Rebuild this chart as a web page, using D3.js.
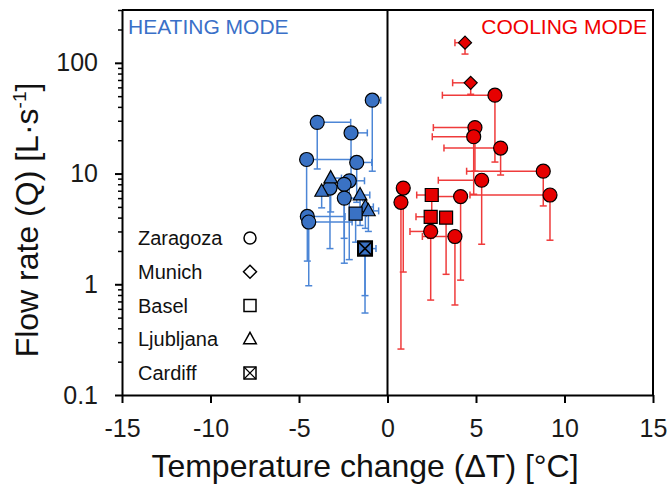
<!DOCTYPE html>
<html>
<head>
<meta charset="utf-8">
<script src="https://cdn.jsdelivr.net/npm/d3@7"></script>
<style>
  body { margin: 0; background: #fff; }
  svg { font-family: "Liberation Sans", Arial, sans-serif; }
</style>
</head>
<body>
<svg width="670" height="484"></svg>
<script>
// each row: [dT, Q, dT bar end (toward 0), Q bar low end]
const heatZaragoza = [
    [-0.86, 46, -0.38, 10.5],
    [-3.97, 29, -2.08, 11],
    [-2.06, 23.3, -1.14, 9.5],
    [-4.57, 13.4, -2.08, 3.8],
    [-1.74, 12.6, -0.89, 5.5],
    [-2.16, 8.6, -1.3, 1.67],
    [-2.45, 8.0, -2.0, 2.6],
    [-3.25, 7.4, -2.6, 2.1],
    [-2.44, 6.0, -1.4, 1.55],
    [-4.53, 4.1, -2.4, 1.62],
    [-4.45, 3.65, -2.0, 0.97]
];
const heatLjubljana = [
    [-3.21, 9.1, -2.6, 4.5],
    [-3.72, 6.9, -3.2, 4.9],
    [-1.55, 6.4, -1.0, 3.4],
    [-1.25, 5.0, -0.8, 3.2],
    [-1.08, 4.6, -0.5, 3.0]
];
const heatBasel = [
    [-1.80, 4.35, -1.2, 2.4]
];
const heatCardiff = [
    [-1.27, 2.1, -0.9, 0.79],
    [-1.27, 2.1, -0.65, 0.55]
];
const coolMunich = [
    [4.38, 152, 3.81, 120],
    [4.70, 66, 3.68, 52]
];
const coolZaragoza = [
    [6.07, 51, 3.10, 12.7],
    [4.94, 26, 2.59, 10.5],
    [4.87, 21.5, 2.53, 6.5],
    [6.39, 17, 3.19, 9.7],
    [8.80, 10.5, 4.47, 5.1],
    [5.32, 8.7, 2.87, 2.3],
    [9.18, 6.4, 4.66, 2.5],
    [4.13, 6.2, 2.78, 1.09],
    [0.89, 7.4, null, 1.29],
    [0.76, 5.5, null, 0.26],
    [2.44, 3.0, 1.27, 0.72],
    [3.81, 2.7, 1.97, 0.65]
];
const coolBasel = [
    [2.50, 6.4, 1.65, 4.0],
    [2.44, 4.07, 1.61, 2.6],
    [3.31, 4.0, null, 1.23]
];

const xTicks = [-15, -10, -5, 0, 5, 10, 15];
const yTicks = [0.1, 1, 10, 100];
const legendItems = [
    { name: "Zaragoza", shape: "circle" },
    { name: "Munich", shape: "diamond" },
    { name: "Basel", shape: "square" },
    { name: "Ljubljana", shape: "triangle" },
    { name: "Cardiff", shape: "cross" }
];

const blue = "#3a72c4", blueBar = "#4c86d6";
const red = "#e60000", redBar = "#ef3b3b";

const plot = { left: 122, right: 653, top: 10, bottom: 395 };

const svg = d3.select("svg");

const x = d3.scaleLinear().domain([-15, 15]).range([plot.left, plot.right]);
const y = d3.scaleLog().domain([0.1, 300]).range([plot.bottom, plot.top]);

function shapePath(shape, s) {
    if (shape === "square" || shape === "cross")
        return `M${-s},${-s}h${2 * s}v${2 * s}h${-2 * s}Z`;
    if (shape === "diamond")
        return `M0,${-s}L${s},0L0,${s}L${-s},0Z`;
    if (shape === "triangle")
        return `M0,${-s * 1.15}L${s * 1.05},${s * 0.75}L${-s * 1.05},${s * 0.75}Z`;
    return null;
}

function drawMarker(g, shape, cx, cy, s, fill, sw) {
    if (shape === "circle") {
        g.append("circle").attr("cx", cx).attr("cy", cy).attr("r", s)
            .attr("fill", fill).attr("stroke", "#000").attr("stroke-width", sw);
        return;
    }
    g.append("path").attr("transform", `translate(${cx},${cy})`)
        .attr("d", shapePath(shape, s))
        .attr("fill", fill).attr("stroke", "#000").attr("stroke-width", sw);
    if (shape === "cross") {
        g.append("path").attr("transform", `translate(${cx},${cy})`)
            .attr("d", `M${-s},${-s}L${s},${s}M${s},${-s}L${-s},${s}`)
            .attr("fill", "none").attr("stroke", "#000").attr("stroke-width", sw * 0.8);
    }
}

// Error bars under the markers
const barLayer = svg.append("g");
const markLayer = svg.append("g");

function drawSeries(data, shape, fill, barColor, size) {
    data.forEach(d => {
        const [dt, q, dtEnd, qLow] = d;
        const px = x(dt), py = y(q);
        const cap = 3.5;
        if (dtEnd !== null) {
            barLayer.append("line")
                .attr("x1", px).attr("x2", x(dtEnd)).attr("y1", py).attr("y2", py)
                .attr("stroke", barColor).attr("stroke-width", 1.5);
            barLayer.append("line")
                .attr("x1", x(dtEnd)).attr("x2", x(dtEnd)).attr("y1", py - cap).attr("y2", py + cap)
                .attr("stroke", barColor).attr("stroke-width", 1.5);
        }
        if (qLow !== null) {
            barLayer.append("line")
                .attr("x1", px).attr("x2", px).attr("y1", py).attr("y2", y(qLow))
                .attr("stroke", barColor).attr("stroke-width", 1.5);
            barLayer.append("line")
                .attr("x1", px - cap).attr("x2", px + cap).attr("y1", y(qLow)).attr("y2", y(qLow))
                .attr("stroke", barColor).attr("stroke-width", 1.5);
        }
        drawMarker(markLayer, shape, px, py, size, fill, shape === "cross" ? 2 : 1.2);
    });
}

drawSeries(heatZaragoza, "circle", blue, blueBar, 7);
drawSeries(heatLjubljana, "triangle", blue, blueBar, 6.5);
drawSeries(heatBasel, "square", blue, blueBar, 6.5);
drawSeries(heatCardiff, "cross", blue, blueBar, 7);
drawSeries(coolMunich, "diamond", red, redBar, 6.5);
drawSeries(coolZaragoza, "circle", red, redBar, 7);
drawSeries(coolBasel, "square", red, redBar, 6.5);

// Zero line
svg.append("line")
    .attr("x1", x(0)).attr("x2", x(0)).attr("y1", plot.top).attr("y2", plot.bottom)
    .attr("stroke", "#000").attr("stroke-width", 2);

// Frame (top + right)
svg.append("path")
    .attr("d", `M${plot.left},${plot.top}H${plot.right}V${plot.bottom}`)
    .attr("fill", "none").attr("stroke", "#000").attr("stroke-width", 2);

// Axes
const gx = svg.append("g")
    .attr("transform", `translate(0,${plot.bottom})`)
    .call(d3.axisBottom(x).tickValues(xTicks).tickFormat(d => String(d))
        .tickSize(8).tickSizeOuter(0).tickPadding(16));

const gy = svg.append("g")
    .attr("transform", `translate(${plot.left},0)`)
    .call(d3.axisLeft(y).tickValues(yTicks).tickFormat(d => String(d))
        .tickSize(7).tickSizeOuter(0).tickPadding(17));

const minorTicks = [];
[0.1, 1, 10].forEach(b => { for (let k = 2; k <= 9; k++) minorTicks.push(b * k); });
minorTicks.push(200, 300);
svg.append("g")
    .attr("transform", `translate(${plot.left},0)`)
    .call(d3.axisLeft(y).tickValues(minorTicks).tickFormat("").tickSize(4).tickSizeOuter(0))
    .call(g => g.select(".domain").remove())
    .selectAll("line").attr("stroke-width", 1.5);

[gx, gy].forEach(g => {
    g.select(".domain").attr("stroke-width", 2);
    g.selectAll(".tick line").attr("stroke-width", 2);
    g.selectAll(".tick text").attr("font-size", 25).attr("fill", "#1a1a1a")
        .attr("font-family", "'Liberation Sans', Arial, sans-serif");
});

// Mode labels
svg.append("text").attr("x", 128).attr("y", 34)
    .attr("font-size", 21).attr("fill", "#3a70c8").text("HEATING MODE");
svg.append("text").attr("x", 647).attr("y", 34).attr("text-anchor", "end")
    .attr("font-size", 21).attr("fill", "#f00000").text("COOLING MODE");

// Legend
const legendY = d3.scalePoint().domain(legendItems.map(d => d.name)).range([238, 373]);
const legend = svg.append("g");
legendItems.forEach(d => {
    legend.append("text").attr("x", 138).attr("y", legendY(d.name) + 7)
        .attr("font-size", 20).attr("fill", "#111").text(d.name);
    const s = d.shape === "diamond" ? 6.5 : d.shape === "triangle" ? 6 : 6;
    drawMarker(legend, d.shape, 250, legendY(d.name), s, "none", 1.5);
});

// Axis titles
svg.append("text")
    .attr("x", 365).attr("y", 477)
    .attr("text-anchor", "middle").attr("font-size", 32).attr("fill", "#111")
    .text("Temperature change (ΔT) [°C]");

const yt = svg.append("text")
    .attr("transform", `translate(38,220) rotate(-90)`)
    .attr("text-anchor", "middle").attr("font-size", 32).attr("fill", "#111");
yt.append("tspan").text("Flow rate (Q) [L·s");
yt.append("tspan").attr("font-size", 19).attr("dy", -12).text("-1");
yt.append("tspan").attr("dy", 12).text("]");
</script>
</body>
</html>
